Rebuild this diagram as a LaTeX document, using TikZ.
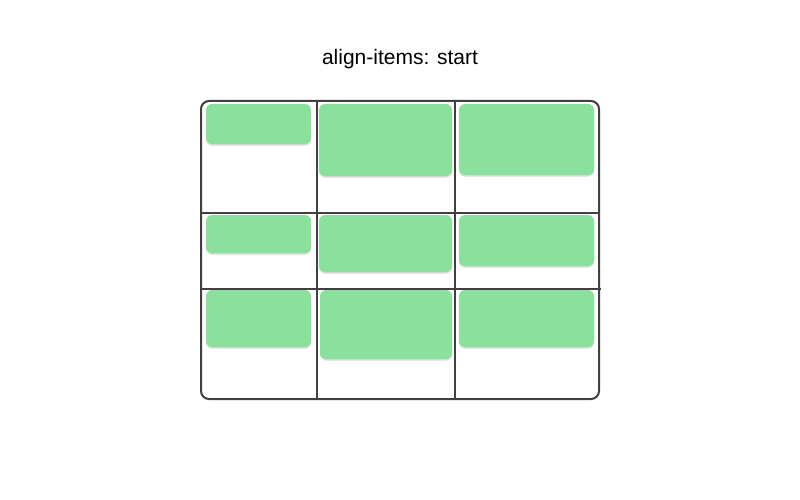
\documentclass[tikz,border=0pt]{standalone}
\usepackage{fontspec}
\setmainfont{Liberation Sans}
\usetikzlibrary{shadows}
\definecolor{itemgreen}{RGB}{140,224,158}
\definecolor{gridgray}{RGB}{64,64,64}

\begin{document}
\begin{tikzpicture}[x=1pt, y=-1pt]
                \tikzstyle{grid} = [line width=2pt, color=gridgray]
                \tikzstyle{item} = [fill=itemgreen, draw=none, rounded corners=6pt,
                    drop shadow={shadow xshift=0pt, shadow yshift=-1.5pt, opacity=0.3, fill=gray}]
                \useasboundingbox (0, 0) rectangle (800, 500);
                \node (title) at (400, 59) {\fontsize{21}{25}\selectfont align-items: start};
                % row 1
                \fill[item] (206, 104) rectangle (311, 144);
                \fill[item] (319, 104) rectangle (452, 176);
                \fill[item] (459, 104) rectangle (594, 175);
                % row 2
                \fill[item] (206, 215) rectangle (311, 253);
                \fill[item] (319, 215) rectangle (452, 272);
                \fill[item] (459, 215) rectangle (594, 266);
                % row 3
                \fill[item] (206, 290) rectangle (311, 347);
                \fill[item] (320, 290) rectangle (452, 359);
                \fill[item] (459, 290) rectangle (594, 347);
                % grid
                \draw[grid] (317, 101) -- (317, 399);
                \draw[grid] (455, 101) -- (455, 399);
                \draw[grid] (201, 213) -- (599, 213);
                \draw[grid] (201, 289) -- (601, 289);
                \draw[grid, rounded corners=8pt] (201, 101) rectangle (599, 399);
            \end{tikzpicture}
\end{document}
